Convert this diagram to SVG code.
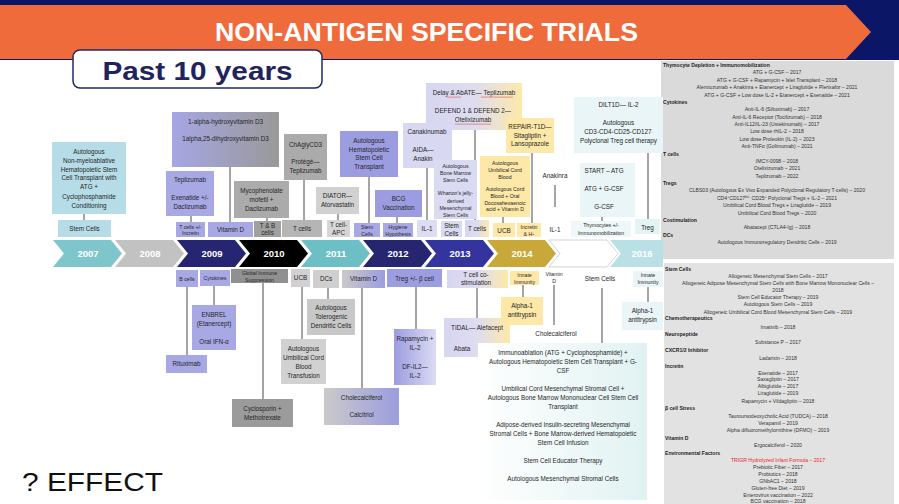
<svg xmlns="http://www.w3.org/2000/svg" width="899" height="504" viewBox="0 0 899 504">
<defs>
<style>
text{font-family:"Liberation Sans",Arial,sans-serif;fill:#262626}
.t{font-size:6.3px;text-anchor:middle}
.s{font-size:5.2px;text-anchor:middle}
.yr{font-size:9.5px;font-weight:bold;fill:#fff;text-anchor:middle}
.r{font-size:5.1px;text-anchor:middle;fill:#333}
.h{font-size:5.1px;font-weight:bold;fill:#222}
.c line{stroke:#4a4a4a;stroke-width:1}
.lb{fill:#b6dde7}
.lav{fill:#a8a8e4}
.lav2{fill:#9c9ce0}
.llav{fill:#d8d8f2}
.g1{fill:#9b9b9b}
.g2{fill:#ababab}
.g3{fill:#d1d1d1}
.yel{fill:#fde8a8}
.cy{fill:#e9f5f6}
.sup{font-size:3.6px}
</style>
<path id="chev" d="M0,0H58L69,13.5L58,27H0L11,13.5Z"/>
<linearGradient id="gLavGray" x1="0" x2="1" y1="0" y2="0"><stop offset="0" stop-color="#a6a6e4"/><stop offset="1" stop-color="#999"/></linearGradient>
<linearGradient id="gGrayLav" x1="0" x2="1" y1="0" y2="0"><stop offset="0" stop-color="#cacaca"/><stop offset="1" stop-color="#9c9ce0"/></linearGradient>
<linearGradient id="gLavYel" x1="0" x2="1" y1="0" y2="0"><stop offset="0" stop-color="#d6d6f1"/><stop offset="0.5" stop-color="#dedcf0"/><stop offset="1" stop-color="#fde9a9"/></linearGradient>
<linearGradient id="gLavLight" x1="0" x2="1" y1="0" y2="0"><stop offset="0" stop-color="#9c9ce0"/><stop offset="1" stop-color="#dcdcf4"/></linearGradient>
<linearGradient id="gCyan" x1="0" x2="1" y1="0" y2="0"><stop offset="0" stop-color="#ffffff"/><stop offset="1" stop-color="#e1f2f2"/></linearGradient>
</defs>

<g id="header">
<rect x="0" y="0" width="899" height="60" fill="#0b1766"/>
<path d="M0,5H846L871,32L846,59H0Z" fill="#ef6b3b"/>
<text x="426.5" y="41" font-size="25" font-weight="bold" fill="#fff" style="fill:#fff" text-anchor="middle" textLength="423" lengthAdjust="spacingAndGlyphs">NON-ANTIGEN SPECIFIC TRIALS</text>
<rect x="73" y="50" width="249" height="38" rx="7" fill="#fff" stroke="#1f2a6a" stroke-width="1.5"/>
<text x="197.5" y="80" font-size="25" font-weight="bold" style="fill:#1f2360" text-anchor="middle" textLength="190" lengthAdjust="spacingAndGlyphs">Past 10 years</text>
</g>

<text id="effect" x="22" y="491" font-size="26" style="fill:#111" textLength="141" lengthAdjust="spacingAndGlyphs">? EFFECT</text>

<g id="panel-top">
<rect x="661" y="61" width="233" height="198" fill="#dadada"/>
<text class="h" x="663" y="67">Thymocyte Depletion + Immunomobilization</text>
<text class="r" x="777" y="74.4">ATG + G-CSF – 2017</text>
<text class="r" x="777" y="81.8">ATG + G-CSF + Rapamycin + Islet Transplant – 2018</text>
<text class="r" x="777" y="89.1">Alemtuzumab + Anakinra + Etanercept + Liraglutide + Plerixafor – 2021</text>
<text class="r" x="777" y="96.5">ATG + G-CSF +  Low dose IL-2 + Etanercept + Exenatide – 2021</text>
<text class="h" x="663" y="103.9">Cytokines</text>
<text class="r" x="777" y="111.3">Anti-IL-6 (Siltuximab) – 2017</text>
<text class="r" x="777" y="118.6">Anti-IL-6 Receptor (Tocilizumab) – 2018</text>
<text class="r" x="777" y="126">Anti-IL12/IL-23 (Ustekinumab) – 2017</text>
<text class="r" x="777" y="133.4">Low dose rhIL-2 – 2018</text>
<text class="r" x="777" y="140.8">Low dose Proleukin (IL-2) – 2023</text>
<text class="r" x="777" y="148.1">Anti-TNFα (Golimumab) – 2021</text>
<text class="h" x="663" y="155.5">T cells</text>
<text class="r" x="777" y="162.9">IMCY-0098 – 2018</text>
<text class="r" x="777" y="170.3">Otelixizumab – 2021</text>
<text class="r" x="777" y="177.6">Teplizumab – 2022</text>
<text class="h" x="663" y="185">Tregs</text>
<text class="r" x="777" y="192.4">CLBS03 (Autologous Ex Vivo Expanded Polyclonal Regulatory T-cells) – 2020</text>
<text class="r" x="777" y="199.8">CD4<tspan class="sup" dy="-1.5">+</tspan><tspan dy="1.5">CD127</tspan><tspan class="sup" dy="-1.5">lo/-</tspan><tspan dy="1.5"> CD25</tspan><tspan class="sup" dy="-1.5">+</tspan><tspan dy="1.5">  Polyclonal Tregs + IL-2 – 2021</tspan></text>
<text class="r" x="777" y="207.1">Umbilical Cord Blood Tregs + Liraglutide – 2019</text>
<text class="r" x="777" y="214.5">Umbilical Cord Blood Tregs – 2020</text>
<text class="h" x="663" y="221.9">Costimulation</text>
<text class="r" x="777" y="229.3">Abatacept (CTLA4-Ig) – 2018</text>
<text class="h" x="663" y="236.6">DCs</text>
<text class="r" x="777" y="244">Autologous Immunoregulatory Dendritic Cells – 2019</text>
</g>

<g id="panel-bottom">
<rect x="664" y="263" width="230" height="241" fill="#e2e2e2"/>
<text class="h" x="665" y="271">Stem Cells</text>
<text class="r" x="778" y="277.5">Allogeneic Mesenchymal Stem Cells – 2017</text>
<text class="r" x="778" y="284.5">Allogeneic Adipose Mesenchymal Stem Cells with Bone Marrow Mononuclear Cells –</text>
<text class="r" x="778" y="291.8">2018</text>
<text class="r" x="778" y="299.1">Stem Cell Educator Therapy – 2019</text>
<text class="r" x="778" y="306.1">Autologous Stem Cells – 2019</text>
<text class="r" x="778" y="313.5">Allogeneic Umbilical Cord Blood Mesenchymal Stem Cells – 2019</text>
<text class="h" x="665" y="320.1">Chemotherapeutics</text>
<text class="r" x="778" y="328.5">Imatinib – 2018</text>
<text class="h" x="665" y="336.1">Neuropeptide</text>
<text class="r" x="778" y="344.1">Substance P – 2017</text>
<text class="h" x="665" y="351.8">CXCR1/2 Inhibitor</text>
<text class="r" x="778" y="359.5">Ladarixin – 2018</text>
<text class="h" x="665" y="367.5">Incretin</text>
<text class="r" x="778" y="375.1">Exenatide – 2017</text>
<text class="r" x="778" y="381">Saxagliptin – 2017</text>
<text class="r" x="778" y="387.8">Albiglutide – 2017</text>
<text class="r" x="778" y="395.1">Liraglutide – 2019</text>
<text class="r" x="778" y="402.5">Rapamycin + Vildagliptin – 2018</text>
<text class="h" x="665" y="410.1">β cell Stress</text>
<text class="r" x="778" y="417.5">Tauroursodeoxycholic Acid (TUDCA) – 2018</text>
<text class="r" x="778" y="424.5">Verapamil – 2019</text>
<text class="r" x="778" y="431.8">Alpha difluoromethylornithine (DFMO) – 2019</text>
<text class="h" x="665" y="439.5">Vitamin D</text>
<text class="r" x="778" y="447.1">Ergocalciferol – 2020</text>
<text class="h" x="665" y="454.5">Environmental Factors</text>
<text class="r" x="778" y="461.8" style="fill:#e8231f">TRIGR Hydrolyzed Infant Formula – 2017</text>
<text class="r" x="778" y="469.1">Prebiotic Fiber – 2017</text>
<text class="r" x="778" y="476.1">Probiotics – 2018</text>
<text class="r" x="778" y="483.2">GNbAC1 – 2018</text>
<text class="r" x="778" y="490.2">Gluten-free Diet – 2019</text>
<text class="r" x="778" y="497">Enterovirus vaccination – 2022</text>
<text class="r" x="778" y="502.6">BCG vaccination – 2018</text>
</g>

<g id="timeline">
<use href="#chev" x="53" y="240" fill="#7fc6cc"/>
<use href="#chev" x="115" y="240" fill="#c2c2c2"/>
<use href="#chev" x="177" y="240" fill="#252572"/>
<use href="#chev" x="239" y="240" fill="#000"/>
<use href="#chev" x="301" y="240" fill="#6cc0c5"/>
<use href="#chev" x="363" y="240" fill="#262670"/>
<use href="#chev" x="425" y="240" fill="#34349e"/>
<use href="#chev" x="487" y="240" fill="#c9a83a"/>
<use href="#chev" x="549" y="240" fill="#fff" stroke="#d4d4d4" stroke-width="1"/>
<path d="M610,240H663V267H610L621,253.5Z" fill="#b9e0e4"/>
<text class="yr" x="88" y="256.5">2007</text>
<text class="yr" x="150" y="256.5">2008</text>
<text class="yr" x="212" y="256.5">2009</text>
<text class="yr" x="274" y="256.5">2010</text>
<text class="yr" x="336" y="256.5">2011</text>
<text class="yr" x="398" y="256.5">2012</text>
<text class="yr" x="460" y="256.5">2013</text>
<text class="yr" x="522" y="256.5">2014</text>
<text class="yr" x="642" y="256.5">2016</text>
</g>

<g id="connectors" class="c">
<line x1="84" y1="214" x2="84" y2="220"/>
<line x1="191" y1="216" x2="191" y2="222"/>
<line x1="230" y1="167" x2="230" y2="222"/>
<line x1="267" y1="218" x2="267" y2="221"/>
<line x1="304" y1="180" x2="304" y2="220"/>
<line x1="338" y1="214" x2="338" y2="220"/>
<line x1="369" y1="177" x2="369" y2="223"/>
<line x1="397" y1="217" x2="397" y2="223"/>
<line x1="427" y1="168" x2="427" y2="220"/>
<line x1="475" y1="130" x2="475" y2="220"/>
<line x1="503" y1="217" x2="503" y2="223"/>
<line x1="532" y1="153" x2="532" y2="223"/>
<line x1="555" y1="185" x2="555" y2="207"/>
<line x1="648" y1="153" x2="648" y2="219"/>
<line x1="602" y1="217" x2="602" y2="221"/>
<line x1="187" y1="287" x2="187" y2="355"/>
<line x1="214" y1="286" x2="214" y2="305"/>
<line x1="263" y1="283" x2="263" y2="399"/>
<line x1="302" y1="287" x2="302" y2="339"/>
<line x1="328" y1="288" x2="328" y2="299"/>
<line x1="362" y1="288" x2="362" y2="388"/>
<line x1="416" y1="287" x2="416" y2="329"/>
<line x1="477" y1="288" x2="477" y2="318"/>
<line x1="523" y1="285" x2="523" y2="297"/>
<line x1="554" y1="285" x2="554" y2="325"/>
<line x1="602" y1="288" x2="602" y2="343"/>
<line x1="648" y1="287" x2="648" y2="302"/>
</g>

<g id="n-hsct-2007"><rect class="lb" x="52" y="142" width="74" height="72"/>
<text class="t" x="89" y="154">Autologous</text><text class="t" x="89" y="163">Non-myeloablative</text><text class="t" x="89" y="171.5">Hematopoietic Stem</text><text class="t" x="89" y="180">Cell Transplant with</text><text class="t" x="89" y="189">ATG +</text><text class="t" x="89" y="198.5">Cyclophosphamide</text><text class="t" x="89" y="207.5">Conditioning</text></g>
<g id="n-stemcells-2007"><rect class="lb" x="58" y="220" width="53" height="17"/><text class="t" x="84.5" y="231">Stem Cells</text></g>
<g id="n-teplizumab-2009"><rect class="lav" x="166" y="171" width="48" height="45"/><text class="t" x="190" y="182">Teplizumab</text><text class="t" x="190" y="200">Exenatide +/-</text><text class="t" x="190" y="209">Daclizumab</text></g>
<g id="n-tcells-incretin"><rect class="lav" x="176" y="222" width="29" height="15"/><text class="s" x="190.5" y="228.5">T cells +/-</text><text class="s" x="190.5" y="235">Incretin</text></g>
<g id="n-vitd-2009"><rect class="lav" x="208" y="222" width="45" height="15"/><text class="t" x="230.5" y="232">Vitamin D</text></g>
<g id="n-vitd3"><rect x="172" y="112" width="107" height="55" fill="url(#gLavGray)"/><text class="t" x="225.5" y="124">1-alpha-hydroxyvitamin D3</text><text class="t" x="225.5" y="141">1alpha,25-dihydroxyvitamin D3</text></g>
<g id="n-mmf"><rect class="g2" x="234" y="181" width="55" height="37"/><text class="t" x="261.5" y="193">Mycophenolate</text><text class="t" x="261.5" y="202">mofetil +</text><text class="t" x="261.5" y="211">Daclizumab</text></g>
<g id="n-tb-cells"><rect fill="#a0a0a0" x="254" y="221" width="27" height="16"/><text class="t" x="267.5" y="228">T &amp; B</text><text class="t" x="267.5" y="235">cells</text></g>
<g id="n-chagly"><rect class="g2" x="284" y="134" width="43" height="46"/><text class="t" x="305.5" y="147">ChAglyCD3</text><text class="t" x="305.5" y="164">Protégé—</text><text class="t" x="305.5" y="173">Teplizumab</text></g>
<g id="n-tcells-2010"><rect fill="#b5b5b5" x="282" y="220" width="40" height="17"/><text class="t" x="302" y="231">T cells</text></g>
<g id="n-diator"><rect class="g3" x="316" y="187" width="43" height="27"/><text class="t" x="337.5" y="198">DIATOR—</text><text class="t" x="337.5" y="207">Atorvastatin</text></g>
<g id="n-tcell-apc"><rect fill="#d6d6d6" x="327" y="220" width="23" height="17"/><text class="t" x="338.5" y="227">T cell-</text><text class="t" x="338.5" y="235">APC</text></g>
<g id="n-ahsct"><rect class="lav2" x="340" y="131" width="58" height="46"/><text class="t" x="369" y="143">Autologous</text><text class="t" x="369" y="151.5">Hematopoietic</text><text class="t" x="369" y="160">Stem Cell</text><text class="t" x="369" y="169">Transplant</text></g>
<g id="n-stemcells-2011"><rect class="lav" x="354" y="223" width="26" height="14"/><text class="s" x="367" y="229">Stem</text><text class="s" x="367" y="236">Cells</text></g>
<g id="n-bcg"><rect class="lav2" x="375" y="190" width="47" height="27"/><text class="t" x="398.5" y="201">BCG</text><text class="t" x="398.5" y="210">Vaccination</text></g>
<g id="n-hygiene"><rect class="lav" x="383" y="223" width="30" height="14"/><text class="s" x="398" y="229">Hygiene</text><text class="s" x="398" y="236">Hypothesis</text></g>
<g id="n-defend"><rect x="426" y="83" width="96" height="47" fill="url(#gLavYel)"/><text class="t" x="474" y="95">Delay &amp; AbATE— Teplizumab</text><text class="t" x="473" y="113">DEFEND 1 &amp; DEFEND 2—</text><text class="t" x="473" y="122">Otelixizumab</text>
<path d="M447,97.5l1,-0.8l1,0.8l1,-0.8l1,0.8l1,-0.8l1,0.8l1,-0.8l1,0.8l1,-0.8l1,0.8l1,-0.8l1,0.8l1,-0.8l1,0.8 M481,97.5l1,-0.8l1,0.8l1,-0.8l1,0.8l1,-0.8l1,0.8l1,-0.8l1,0.8l1,-0.8l1,0.8l1,-0.8l1,0.8l1,-0.8l1,0.8l1,-0.8l1,0.8l1,-0.8l1,0.8l1,-0.8l1,0.8l1,-0.8l1,0.8l1,-0.8l1,0.8l1,-0.8l1,0.8l1,-0.8l1,0.8l1,-0.8l1,0.8l1,-0.8l1,0.8 M455,124.5l1,-0.8l1,0.8l1,-0.8l1,0.8l1,-0.8l1,0.8l1,-0.8l1,0.8l1,-0.8l1,0.8l1,-0.8l1,0.8l1,-0.8l1,0.8l1,-0.8l1,0.8l1,-0.8l1,0.8l1,-0.8l1,0.8l1,-0.8l1,0.8l1,-0.8l1,0.8l1,-0.8l1,0.8l1,-0.8l1,0.8l1,-0.8l1,0.8l1,-0.8l1,0.8l1,-0.8l1,0.8l1,-0.8l1,0.8" fill="none" stroke="#e03030" stroke-width="0.5"/></g>
<g id="n-canakinumab"><rect class="llav" x="403" y="123" width="49" height="45"/><text class="t" x="427" y="134">Canakinumab</text><text class="t" x="423" y="152">AIDA—</text><text class="t" x="423" y="161">Anakin</text></g>
<g id="n-il1-2012"><rect fill="#dcdcf2" x="417" y="220" width="20" height="17"/><text class="t" x="427" y="231">IL-1</text></g>
<g id="n-bm"><rect fill="#dadaf3" x="434" y="160" width="43" height="59"/><text class="s" x="455.5" y="168">Autologous</text><text class="s" x="455.5" y="175">Bone Marrow</text><text class="s" x="455.5" y="181.5">Stem Cells</text><text class="s" x="455.5" y="195">Wharton's jelly-</text><text class="s" x="455.5" y="203">derived</text><text class="s" x="455.5" y="210">Mesenchymal</text><text class="s" x="455.5" y="217">Stem Cells</text></g>
<g id="n-stemcells-2013"><rect fill="#dadaf3" x="441" y="221" width="21" height="16"/><text class="t" x="451.5" y="228">Stem</text><text class="t" x="451.5" y="235.5">Cells</text></g>
<g id="n-tcells-2013"><rect x="465" y="220" width="24" height="17" fill="url(#gLavYel)"/><text class="t" x="477" y="231">T cells</text></g>
<g id="n-repair"><rect class="yel" x="506" y="118" width="48" height="35"/><text class="t" x="530" y="129">REPAIR-T1D—</text><text class="t" x="530" y="137.5">Sitagliptin +</text><text class="t" x="530" y="146">Lansoprazole</text></g>
<g id="n-ucb-auto"><rect class="yel" x="480" y="156" width="50" height="61"/><text class="s" x="505" y="165">Autologous</text><text class="s" x="505" y="172">Umbilical Cord</text><text class="s" x="505" y="179">Blood</text><text class="s" x="505" y="191">Autologous Cord</text><text class="s" x="505" y="198">Blood + Oral</text><text class="s" x="505" y="204.5">Docosahexaenoic</text><text class="s" x="505" y="211">acid + Vitamin D</text></g>
<g id="n-ucb-2014"><rect class="yel" x="493" y="223" width="22" height="14"/><text class="t" x="504" y="233">UCB</text></g>
<g id="n-incretin-2014"><rect class="yel" x="517" y="223" width="24" height="14"/><text class="s" x="529" y="229">Incretin</text><text class="s" x="529" y="236">&amp; H<tspan class="sup" dy="-1.5">+</tspan></text></g>
<g id="n-anakinra"><text class="t" x="555" y="178">Anakinra</text></g>
<g id="n-il1-2014"><text class="t" x="555" y="232">IL-1</text></g>
<g id="n-dilt"><rect class="cy" x="574" y="97" width="89" height="56"/><text class="t" x="618.5" y="107">DILT1D— IL-2</text><text class="t" x="618.5" y="125">Autologous</text><text class="t" x="618.5" y="134">CD3<tspan class="sup" dy="-1.5">+</tspan><tspan dy="1.5">CD4</tspan><tspan class="sup" dy="-1.5">+</tspan><tspan dy="1.5">CD25</tspan><tspan class="sup" dy="-1.5">+</tspan><tspan dy="1.5">CD127</tspan><tspan class="sup" dy="-1.5">-</tspan></text><text class="t" x="618.5" y="143">Polyclonal Treg cell therapy</text></g>
<g id="n-start"><rect class="cy" x="580" y="163" width="55" height="54"/><text class="t" x="604" y="173">START – ATG</text><text class="t" x="604" y="191">ATG + G-CSF</text><text class="t" x="604" y="209">G-CSF</text></g>
<g id="n-thymocytes"><rect fill="#eef8f8" x="571" y="221" width="60" height="16"/><text class="s" x="601" y="227">Thymocytes +/-</text><text class="s" x="601" y="235">Immunomobilization</text></g>
<g id="n-treg-2016"><rect fill="#e4f3f4" x="635" y="219" width="25" height="15"/><text class="t" x="647.5" y="230">Treg</text></g>

<g id="n-bcells"><rect class="lav" x="176" y="270" width="22" height="17"/><text class="s" x="187" y="281">B cells</text></g>
<g id="n-cytokines"><rect class="lav" x="200" y="270" width="30" height="16"/><text class="s" x="215" y="280">Cytokines</text></g>
<g id="n-global"><rect fill="#909090" x="231" y="269" width="57" height="14"/><text class="s" x="259.5" y="275">Global Immune</text><text class="s" x="259.5" y="281.5">Suppression</text></g>
<g id="n-ucb-2010"><rect class="g3" x="291" y="269" width="19" height="18"/><text class="t" x="300.5" y="280">UCB</text></g>
<g id="n-dcs"><rect fill="#cfcfcf" x="313" y="270" width="26" height="18"/><text class="t" x="326" y="281">DCs</text></g>
<g id="n-vitd-2011"><rect x="342" y="270" width="43" height="18" fill="url(#gGrayLav)"/><text class="t" x="363.5" y="281">Vitamin D</text></g>
<g id="n-treg-beta"><rect class="lav2" x="387" y="269" width="55" height="18"/><text class="t" x="414.5" y="280.5">Treg +/- β cell</text></g>
<g id="n-costim"><rect x="447" y="270" width="61" height="18" fill="url(#gLavYel)"/><text class="t" x="476" y="276.5">T cell co-</text><text class="t" x="476" y="285">stimulation</text></g>
<g id="n-innate-2014"><rect class="yel" x="510" y="271" width="29" height="14"/><text class="s" x="524.5" y="276.5">Innate</text><text class="s" x="524.5" y="283.5">Immunity</text></g>
<g id="n-vitd-2015"><text class="s" x="554" y="276">Vitamin</text><text class="s" x="554" y="283">D</text></g>
<g id="n-stemcells-2015"><text class="t" x="600" y="281">Stem Cells</text></g>
<g id="n-innate-2016"><rect class="cy" x="633" y="271" width="30" height="16"/><text class="s" x="648" y="277">Innate</text><text class="s" x="648" y="284">Immunity</text></g>

<g id="n-rituximab"><rect class="lav" x="166" y="355" width="41" height="18"/><text class="t" x="186.5" y="366">Rituximab</text></g>
<g id="n-enbrel"><rect class="lav" x="192" y="305" width="44" height="45"/><text class="t" x="214" y="317">ENBREL</text><text class="t" x="214" y="325.5">(Etanercept)</text><text class="t" x="214" y="344">Oral IFN-α</text></g>
<g id="n-cyclosporin"><rect class="g1" x="232" y="399" width="61" height="28"/><text class="t" x="262.5" y="411">Cyclosporin +</text><text class="t" x="262.5" y="420">Methotrexate</text></g>
<g id="n-ucb-transfusion"><rect class="g3" x="281" y="339" width="45" height="45"/><text class="t" x="303.5" y="351">Autologous</text><text class="t" x="303.5" y="360">Umbilical Cord</text><text class="t" x="303.5" y="369">Blood</text><text class="t" x="303.5" y="378">Transfusion</text></g>
<g id="n-tolerogenic"><rect fill="#c8c8c8" x="307" y="299" width="48" height="36"/><text class="t" x="331" y="310">Autologous</text><text class="t" x="331" y="319">Tolerogenic</text><text class="t" x="331" y="328">Dendritic Cells</text></g>
<g id="n-cholecalciferol-2011"><rect x="324" y="388" width="75" height="37" fill="url(#gGrayLav)"/><text class="t" x="361.5" y="400">Cholecalciferol</text><text class="t" x="361.5" y="417">Calcitriol</text></g>
<g id="n-rapamycin"><rect x="394" y="329" width="42" height="56" fill="url(#gLavLight)"/><text class="t" x="415" y="341">Rapamycin +</text><text class="t" x="415" y="349.5">IL-2</text><text class="t" x="415" y="369">DF-IL2—</text><text class="t" x="415" y="377.5">IL-2</text></g>
<g id="n-tidal"><rect x="444" y="318" width="66" height="39" fill="url(#gLavYel)"/><text class="t" x="477" y="330">TIDAL— Alefacept</text><text class="t" x="462" y="351">Abata</text></g>
<g id="n-alpha-2014"><rect class="yel" x="501" y="297" width="42" height="28"/><text class="t" x="522" y="308">Alpha-1</text><text class="t" x="522" y="317">antitrypsin</text></g>
<g id="n-cholecalciferol-2015"><text class="t" x="556" y="336">Cholecalciferol</text></g>
<g id="n-stemcell-therapies"><rect x="478" y="343" width="169" height="157" fill="url(#gCyan)"/>
<text class="t" x="563" y="355">Immunoablation (ATG + Cyclophosphamide) +</text>
<text class="t" x="563" y="364">Autologous Hematopoietic Stem Cell Transplant + G-</text>
<text class="t" x="563" y="372.5">CSF</text>
<text class="t" x="563" y="391">Umbilical Cord Mesenchymal Stromal Cell +</text>
<text class="t" x="563" y="400">Autologous Bone Marrow Mononuclear Cell  Stem Cell</text>
<text class="t" x="563" y="409">Transplant</text>
<text class="t" x="563" y="427">Adipose-derived Insulin-secreting Mesenchymal</text>
<text class="t" x="563" y="436">Stromal Cells + Bone Marrow-derived Hematopoietic</text>
<text class="t" x="563" y="445">Stem Cell Infusion</text>
<text class="t" x="563" y="463">Stem Cell Educator Therapy</text>
<text class="t" x="563" y="481">Autologous Mesenchymal Stromal Cells</text></g>
<g id="n-alpha-2016"><rect class="cy" x="622" y="302" width="41" height="28"/><text class="t" x="642.5" y="313">Alpha-1</text><text class="t" x="642.5" y="322">antitrypsin</text></g>
</svg>
